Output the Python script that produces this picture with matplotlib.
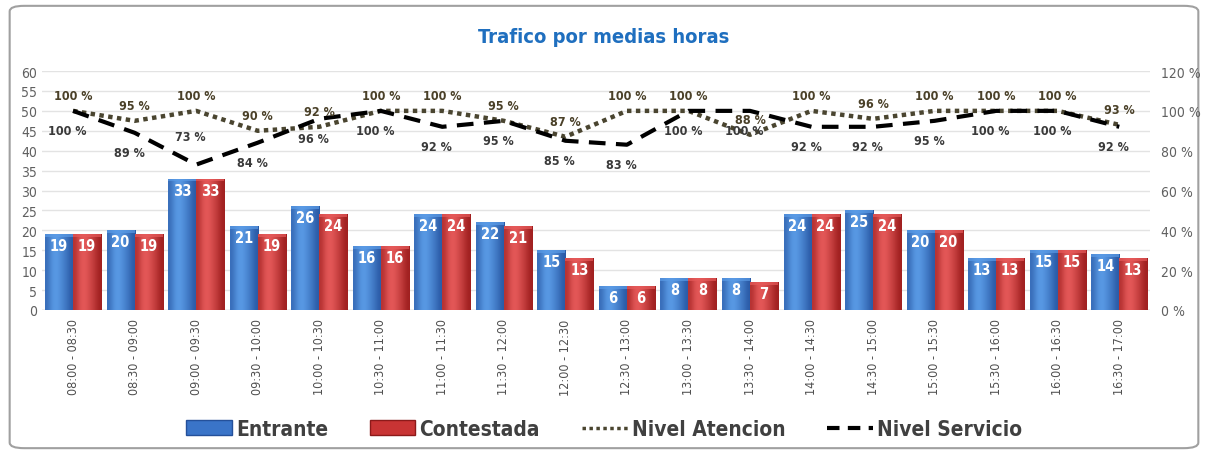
import matplotlib.pyplot as plt
import numpy as np
from matplotlib.patches import FancyBboxPatch, Patch
from matplotlib.lines import Line2D

plt.rcParams['font.family'] = ['DejaVu Sans']
plt.rcParams['font.stretch'] = 'condensed'

franjas = ['08:00 - 08:30', '08:30 - 09:00', '09:00 - 09:30', '09:30 - 10:00',
           '10:00 - 10:30', '10:30 - 11:00', '11:00 - 11:30', '11:30 - 12:00',
           '12:00 - 12:30', '12:30 - 13:00', '13:00 - 13:30', '13:30 - 14:00',
           '14:00 - 14:30', '14:30 - 15:00', '15:00 - 15:30', '15:30 - 16:00',
           '16:00 - 16:30', '16:30 - 17:00']
entrante = [19, 20, 33, 21, 26, 16, 24, 22, 15, 6, 8, 8, 24, 25, 20, 13, 15, 14]
contestada = [19, 19, 33, 19, 24, 16, 24, 21, 13, 6, 8, 7, 24, 24, 20, 13, 15, 13]
nivel_atencion = [100, 95, 100, 90, 92, 100, 100, 95, 87, 100, 100, 88, 100, 96, 100, 100, 100, 93]
nivel_servicio = [100, 89, 73, 84, 96, 100, 92, 95, 85, 83, 100, 100, 92, 92, 95, 100, 100, 92]

azul = ['#2a5aa6', '#5a9be6', '#3a74c8', '#24509a']
rojo = ['#a02020', '#e65a5a', '#c83434', '#8c1a1a']


def barras_gradiente(ax, xs, vals, width, cols):
    bars = ax.bar(xs, vals, width=width, color=cols[2], edgecolor=cols[3], linewidth=0.6, zorder=2)
    grad = np.array([[0.3, 0.9, 1.0, 0.7, 0.4, 0.0]])
    cmap = plt.matplotlib.colors.LinearSegmentedColormap.from_list('g', [cols[0], cols[1]])
    for b in bars:
        x0 = b.get_x()
        h = b.get_height()
        im = ax.imshow(grad, extent=[x0, x0 + width, 0, h], aspect='auto', cmap=cmap,
                       interpolation='bicubic', zorder=2.1)
        im.set_clip_path(b)
        ax.add_patch(plt.Rectangle((x0, h - 0.7), width, 0.7, color=cols[1], alpha=0.7,
                                   zorder=2.2, lw=0))
    return bars


fig = plt.figure(figsize=(12.08, 4.56), dpi=100)
fig.patches.append(FancyBboxPatch((0.008, 0.015), 0.984, 0.97, boxstyle='round,pad=0,rounding_size=0.012',
                                  transform=fig.transFigure, facecolor='white', edgecolor='#a0a0a0',
                                  linewidth=1.5, zorder=-1))

ax = fig.add_axes([0.035, 0.318, 0.917, 0.524])
ax.set_facecolor('none')
x = np.arange(len(franjas))
w = 0.455
barras_gradiente(ax, x - w / 2, entrante, w, azul)
barras_gradiente(ax, x + w / 2, contestada, w, rojo)

for i in range(len(franjas)):
    ax.text(x[i] - w / 2, entrante[i] - 1.0, str(entrante[i]), ha='center', va='top',
            color='white', fontsize=10.5, fontweight='bold', zorder=5)
    ax.text(x[i] + w / 2, contestada[i] - 1.0, str(contestada[i]), ha='center', va='top',
            color='white', fontsize=10.5, fontweight='bold', zorder=5)

ax.set_xlim(-0.5, len(franjas) - 0.5)
ax.set_ylim(0, 60)
ax.set_yticks(np.arange(0, 61, 5))
ax.grid(axis='y', color='#e3e3e3', linewidth=1, zorder=0)
ax.set_axisbelow(True)
ax.set_xticks(x)
ax.set_xticklabels(franjas, rotation=90, fontsize=9, color='#505050')
ax.tick_params(axis='y', length=0, colors='#606060', labelsize=10)
ax.tick_params(axis='x', length=0, pad=6)
for s in ax.spines.values():
    s.set_visible(False)
ax.axhline(0, color='#d0d0d0', lw=1, zorder=1)

ax2 = ax.twinx()
ax2.set_ylim(0, 120)
ax2.set_yticks(np.arange(0, 121, 20))
ax2.set_yticklabels([f'{v} %' for v in range(0, 121, 20)])
ax2.tick_params(axis='y', length=0, colors='#606060', labelsize=10, pad=8)
for s in ax2.spines.values():
    s.set_visible(False)

ax2.plot(x, nivel_atencion, color='#4a4530', linestyle=(0, (1, 1)), linewidth=3.2, zorder=3)
ax2.plot(x, nivel_servicio, color='black', linestyle=(0, (4, 2.5)), linewidth=3, zorder=3)

for i in range(len(franjas)):
    ax2.annotate(f'{nivel_atencion[i]} %', (x[i], nivel_atencion[i]), xytext=(0, 11),
                 textcoords='offset points', ha='center', va='center', fontsize=9,
                 fontweight='bold', color='#4a4028')
    # etiqueta por encima si chocaria con las barras
    if nivel_servicio[i] - 14 < 2 * max(entrante[i], contestada[i]):
        dy = 20
    else:
        dy = -14
    ax2.annotate(f'{nivel_servicio[i]} %', (x[i], nivel_servicio[i]), xytext=(-4, dy),
                 textcoords='offset points', ha='center', va='center', fontsize=9,
                 fontweight='bold', color='#3a3a3a')

fig.text(0.5, 0.918, 'Trafico por medias horas', ha='center', va='center', fontsize=14.5,
         fontweight='bold', color='#1f6fbf')

handles = [Patch(facecolor=azul[2], edgecolor=azul[3]),
           Patch(facecolor=rojo[2], edgecolor=rojo[3]),
           Line2D([], [], color='#4a4530', linestyle=(0, (1, 1)), linewidth=2.5),
           Line2D([], [], color='black', linestyle=(0, (3, 2)), linewidth=3)]
fig.legend(handles, ['Entrante', 'Contestada', 'Nivel Atencion', 'Nivel Servicio'],
           loc='center', bbox_to_anchor=(0.5, 0.057), ncol=4, frameon=False,
           handlelength=2.2, handletextpad=0.2, columnspacing=2.0,
           labelcolor='#404040', prop={'size': 15, 'weight': 'bold', 'stretch': 'condensed'})

fig.savefig('out.png', dpi=100)
